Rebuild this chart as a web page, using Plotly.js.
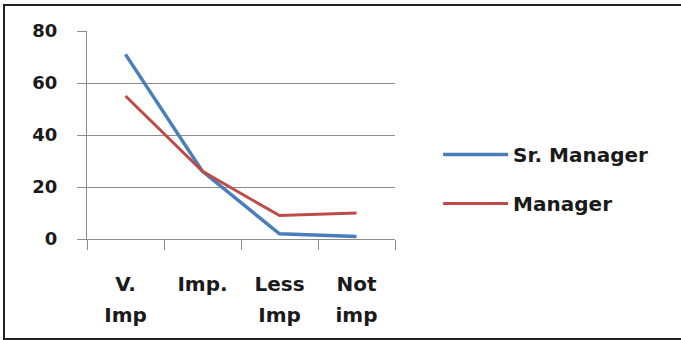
<!DOCTYPE html>
<html><head><meta charset="utf-8">
<script src="https://cdn.plot.ly/plotly-3.0.1.min.js"></script>
<style>
html,body{margin:0;padding:0;background:#fff;}
#wrap{position:relative;width:681px;height:340px;overflow:hidden;}
#chart{position:absolute;left:0;top:0;width:681px;height:340px;}
#frame{position:absolute;left:3px;top:4px;width:700px;height:332px;border:2px solid #222;border-right:none;pointer-events:none;z-index:5;}
</style></head>
<body><div id="wrap"><div id="chart"></div><div id="frame"></div></div>
<script>
const categories = ["V. Imp", "Imp.", "Less Imp", "Not imp"];
const labelLine1 = ["V.", "Imp.", "Less", "Not"];
const labelLine2 = ["Imp", "", "Imp", "imp"];
const srManager = [71, 26, 2, 1];
const manager = [55, 26, 9, 10];
const yTicks = [0, 20, 40, 60, 80];

const FONT = "'DejaVu Sans', sans-serif";
const TXT = "#1a1a1a";
const GRID = "#8c8c8c";

const traces = [
  {x: categories, y: srManager, name: "Sr. Manager", type: "scatter", mode: "lines",
   line: {color: "#4a7ebb", width: 3.5}, legendgroup: "a"},
  {x: categories, y: manager, name: "Manager", type: "scatter", mode: "lines",
   line: {color: "#be4b48", width: 3}, legendgroup: "b"},
  {x: categories, y: [null, null, null, null], xaxis: "x2", yaxis: "y", showlegend: false,
   hoverinfo: "skip", type: "scatter", mode: "lines"}
];

const layout = {
  width: 681, height: 340,
  margin: {l: 87, r: 286, t: 31, b: 101},
  paper_bgcolor: "#fff", plot_bgcolor: "#fff",
  font: {family: FONT, color: TXT},
  showlegend: true,
  legend: {x: 1.14, y: 0.5, xanchor: "left", yanchor: "top",
    font: {family: FONT, size: 20, color: TXT, weight: "bold"},
    itemwidth: 65,
    tracegroupgap: 20, bgcolor: "rgba(0,0,0,0)"},
  xaxis: {type: "category", range: [-0.5, 3.5], tickson: "boundaries",
    tickmode: "array", tickvals: categories, ticktext: labelLine1,
    ticks: "outside", ticklen: 10, tickcolor: GRID, tickwidth: 1,
    showline: true, linecolor: GRID, linewidth: 1, showgrid: false, zeroline: false,
    ticklabelstandoff: 27,
    tickfont: {family: FONT, size: 20, color: TXT, weight: "bold"}},
  xaxis2: {type: "category", range: [-0.5, 3.5], overlaying: "x", anchor: "y", side: "bottom",
    tickmode: "array", tickvals: categories, ticktext: labelLine2,
    ticks: "", showline: false, showgrid: false, zeroline: false,
    ticklabelstandoff: 62,
    tickfont: {family: FONT, size: 20, color: TXT, weight: "bold"}},
  yaxis: {range: [0, 80], tickmode: "array", tickvals: yTicks,
    ticks: "outside", ticklen: 9, tickcolor: GRID, tickwidth: 1,
    showline: true, linecolor: GRID, linewidth: 1,
    showgrid: true, gridcolor: GRID, gridwidth: 1, zeroline: false,
    ticklabelstandoff: 16,
    tickfont: {family: FONT, size: 18, color: TXT, weight: "bold"}}
};

Plotly.newPlot("chart", traces, layout, {staticPlot: true, displayModeBar: false});
</script></body></html>
